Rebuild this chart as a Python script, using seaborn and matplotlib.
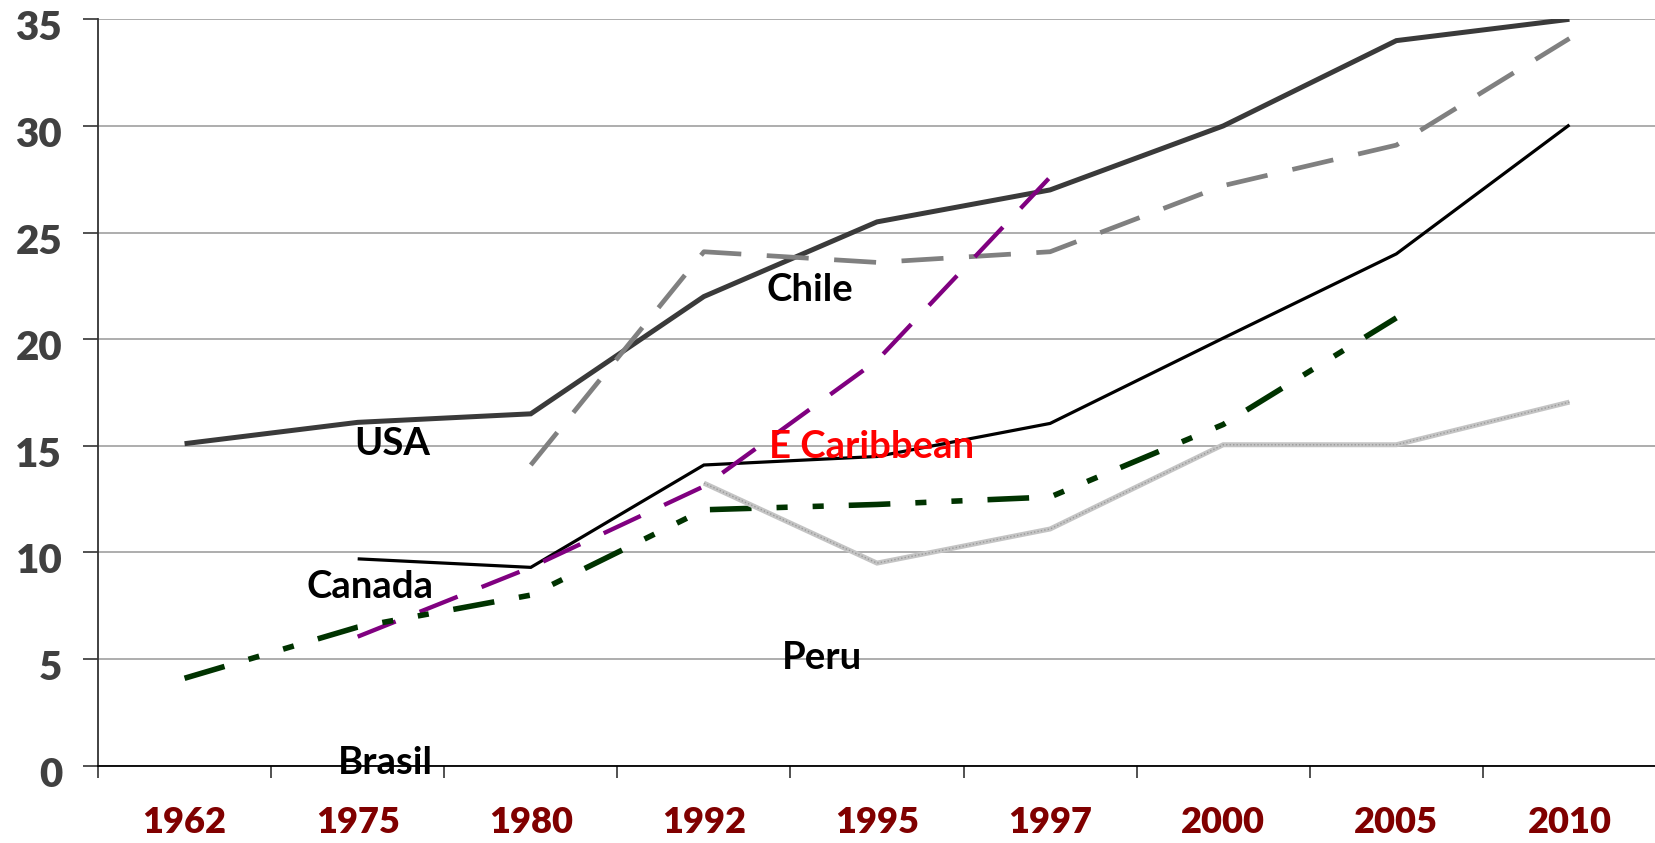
import numpy as np
import pandas as pd
import matplotlib
matplotlib.use("Agg")
import matplotlib.pyplot as plt
import matplotlib.transforms as mtransforms
import seaborn as sns

years = ["1962", "1975", "1980", "1992", "1995", "1997", "2000", "2005", "2010"]

usa = [15.1, 16.1, 16.5, 22.0, 25.5, 27.0, 30.0, 34.0, 35.0]
chile = [None, None, 14.1, 24.1, 23.6, 24.1, 27.2, 29.1, 34.1]
canada = [None, 9.7, 9.3, 14.1, 14.5, 16.05, 20.05, 24.0, 30.05]
e_caribbean = [None, 6.05, 9.3, 13.1, 19.0, 27.6, None, None, None]
brasil = [4.1, 6.5, 8.0, 12.0, 12.25, 12.6, 16.0, 21.0, None]
peru = [None, None, None, 13.25, 9.5, 11.1, 15.05, 15.05, 17.05]

series_names = ["USA", "Chile", "Canada", "E Caribbean", "Brasil", "Peru"]
series_values = [usa, chile, canada, e_caribbean, brasil, peru]

sns.set_style("white")
plt.rcParams["font.family"] = ["Lato", "DejaVu Sans"]

fig = plt.figure(figsize=(16.56, 8.43), dpi=100)
ax = fig.add_axes([98 / 1656, 1 - 765.7 / 843, (1656 - 98) / 1656, (765.7 - 19.3) / 843])

styles = {
    "USA": dict(color="#3a3a3a", lw=3.6, ls="-"),
    "Chile": dict(color="#808080", lw=3.4, ls=(0, (8.9, 5.4))),
    "Canada": dict(color="#000000", lw=2.3, ls="-"),
    "E Caribbean": dict(color="#800080", lw=3.1, ls=(0, (9.5, 6.0))),
    "Brasil": dict(color="#003300", lw=4.0, ls=(0, (7.5, 4.5, 2.0, 4.5, 2.0, 4.5))),
    "Peru": dict(color="#c4c4c4", lw=3.6, ls="-"),
}

for name, vals in zip(series_names, series_values):
    df = pd.DataFrame({"x": np.arange(len(years)), "y": vals}).dropna()
    st = styles[name]
    sns.lineplot(data=df, x="x", y="y", ax=ax, color=st["color"], linewidth=st["lw"],
                 linestyle=st["ls"], dash_capstyle="butt", solid_capstyle="butt",
                 solid_joinstyle="miter", legend=False, zorder=3)

# Peru texture
dfp = pd.DataFrame({"x": np.arange(len(years)), "y": peru}).dropna()
sns.lineplot(data=dfp, x="x", y="y", ax=ax, color="#9a9a9a", linewidth=1.0,
             linestyle=(0, (1, 1.5)), legend=False, zorder=3.1)

ax.set_xlim(-0.5, len(years) - 0.5)
ax.set_ylim(0, 35)
ax.set_xticks(np.arange(len(years)))
ax.set_xticklabels(years)
ax.set_xticks(np.arange(-0.5, len(years) - 0.5, 1.0), minor=True)
ax.set_yticks(np.arange(0, 36, 5))
ax.set_xlabel("")
ax.set_ylabel("")

ax.yaxis.grid(True, color="#a0a0a0", linewidth=1.2, zorder=0)
ax.xaxis.grid(False)
ax.set_axisbelow(True)

for s in ["top", "right"]:
    ax.spines[s].set_visible(False)
ax.spines["left"].set_color("#333333")
ax.spines["left"].set_linewidth(1.3)
ax.spines["bottom"].set_color("#000000")
ax.spines["bottom"].set_linewidth(1.3)

ax.tick_params(axis="x", which="major", length=0, pad=29, labelsize=26,
               labelcolor="#800000")
ax.tick_params(axis="x", which="minor", length=8.6, width=1.2, color="#333333",
               direction="out", bottom=True)
ax.tick_params(axis="y", which="major", length=10.8, width=1.2, color="#333333",
               direction="out", left=True, pad=15, labelsize=29, labelcolor="#404040")
for lab in ax.get_xticklabels():
    lab.set_fontweight("heavy")
offset = mtransforms.ScaledTranslation(0, -6 / 100, fig.dpi_scale_trans)
for lab in ax.get_yticklabels():
    lab.set_fontweight("heavy")
    lab.set_transform(lab.get_transform() + offset)

labels_text = ["USA", "Canada", "Brasil", "Chile", "E Caribbean", "Peru"]
labels_x = [1.2, 1.07, 1.16, 3.61, 3.97, 3.68]
labels_y = [15.1, 8.4, 0.15, 22.3, 14.96, 5.05]
labels_color = ["black", "black", "black", "black", "#ff0000", "black"]
for t, x, y, c in zip(labels_text, labels_x, labels_y, labels_color):
    ax.text(x, y, t, ha="center", va="center", fontsize=27.5, fontweight="bold",
            color=c, zorder=4)

fig.savefig("out.png", dpi=100)
